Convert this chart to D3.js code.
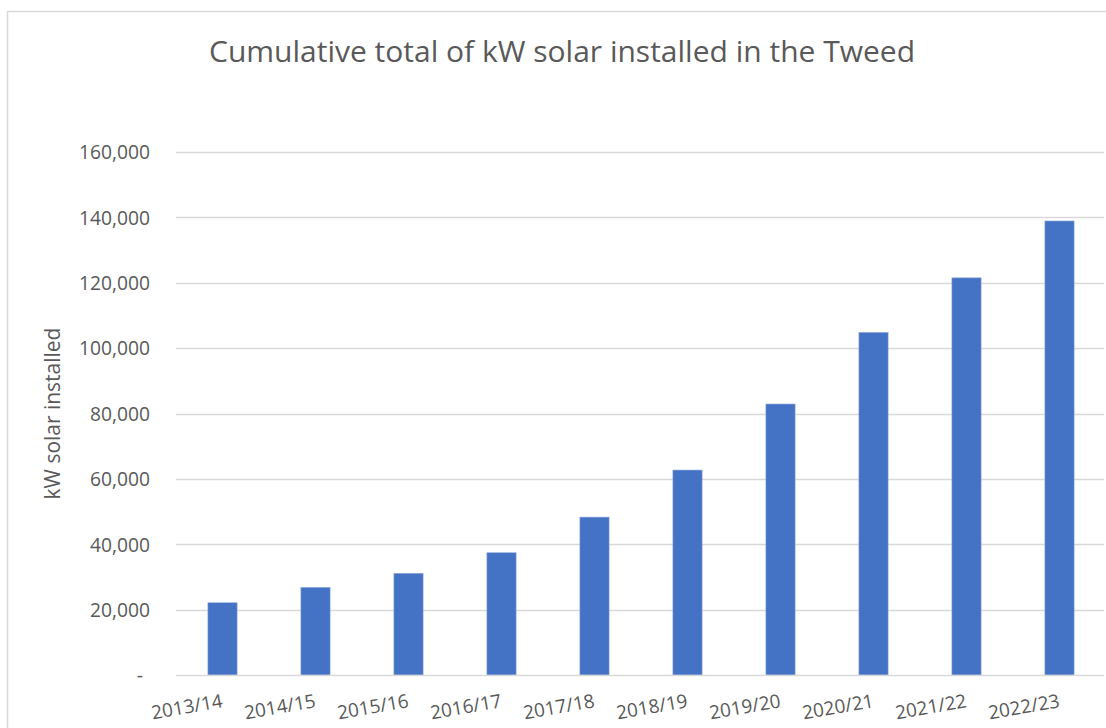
<!DOCTYPE html>
<html>
<head>
<meta charset="utf-8">
<script src="https://cdn.jsdelivr.net/npm/d3@7"></script>
<style>
  html, body { margin: 0; padding: 0; background: #fff; }
  svg { display: block; }
  text { font-family: "Open Sans", "Noto Sans", sans-serif; fill: #595959; }
</style>
</head>
<body>
<svg id="chart" width="1106" height="728"></svg>
<script>
const categories = ["2013/14","2014/15","2015/16","2016/17","2017/18","2018/19","2019/20","2020/21","2021/22","2022/23"];
const values = [22100, 26800, 31100, 37400, 48300, 62700, 82900, 104800, 121500, 138900];
const yTicks = [0, 20000, 40000, 60000, 80000, 100000, 120000, 140000, 160000];
const titleText = "Cumulative total of kW solar installed in the Tweed";
const yAxisTitle = "kW solar installed";

const svg = d3.select("#chart");
const W = 1106, H = 728;
const plot = { left: 176, right: 1106, top: 152, bottom: 675 };

function fitSize(sel, base, target) {
  sel.style("font-size", base + "px");
  const w = sel.node().getComputedTextLength();
  return base * target / w;
}

// chart area border
svg.append("rect")
  .attr("x", 7.5).attr("y", 11.5)
  .attr("width", W + 20).attr("height", H + 20)
  .attr("fill", "none").attr("stroke", "#d9d9d9").attr("stroke-width", 1.5);

const x = d3.scaleBand().domain(categories)
  .range([plot.left, plot.right])
  .paddingInner(0.686).paddingOuter(0.343);
const y = d3.scaleLinear().domain([0, 160000]).range([plot.bottom, plot.top]);

// gridlines
svg.append("g").selectAll("line").data(yTicks.filter(d => d > 0)).join("line")
  .attr("x1", plot.left).attr("x2", 1104)
  .attr("y1", d => Math.round(y(d)) + 0.5).attr("y2", d => Math.round(y(d)) + 0.5)
  .attr("stroke", "#d9d9d9").attr("stroke-width", 1.3);

// bars
svg.append("g").selectAll("rect").data(values).join("rect")
  .attr("x", (d, i) => x(categories[i]))
  .attr("width", x.bandwidth())
  .attr("y", d => y(d))
  .attr("height", d => y(0) - y(d))
  .attr("fill", "#4472c4")
  .attr("stroke", "#8eaadb").attr("stroke-width", 0.6);

// baseline axis
svg.append("line")
  .attr("x1", plot.left).attr("x2", 1104)
  .attr("y1", y(0) + 0.5).attr("y2", y(0) + 0.5)
  .attr("stroke", "#d9d9d9").attr("stroke-width", 1.6);

// y axis labels via d3 axis
const yAxis = d3.axisLeft(y).tickValues(yTicks)
  .tickFormat(d => d === 0 ? "-" : d3.format(",")(d))
  .tickSize(0).tickPadding(0);
const gy = svg.append("g").attr("transform", `translate(${plot.left - 26},0)`).call(yAxis);
gy.select(".domain").remove();
const yLabSize = fitSize(gy.selectAll(".tick").filter(d => d === 160000).select("text"), 16, 71);
gy.selectAll("text")
  .style("font-size", yLabSize + "px").style("fill", "#595959")
  .style("font-family", "\"Open Sans\", sans-serif")
  .attr("dy", "0.35em");
gy.selectAll(".tick").filter(d => d === 0).select("text").attr("dx", -7);

// x axis labels
const xAxis = d3.axisBottom(x).tickSize(0).tickPadding(0);
const gx = svg.append("g").attr("transform", `translate(0,${plot.bottom})`).call(xAxis);
gx.select(".domain").remove();
const xLabSize = fitSize(gx.select(".tick text"), 16, 72);
gx.selectAll("text")
  .style("font-size", xLabSize + "px").style("fill", "#595959")
  .style("font-family", "\"Open Sans\", sans-serif")
  .attr("text-anchor", "end")
  .attr("dy", 0)
  .attr("y", 0)
  .attr("transform", "translate(1,32) rotate(-10)");

// y axis title
const yt = svg.append("text")
  .attr("transform", `translate(60,${(plot.top + plot.bottom) / 2}) rotate(-90)`)
  .attr("text-anchor", "middle")
  .text(yAxisTitle);
yt.style("font-size", fitSize(yt, 16, 172) + "px");

// title
const t = svg.append("text")
  .attr("x", 562).attr("y", 62)
  .attr("text-anchor", "middle")
  .text(titleText);
t.style("font-size", fitSize(t, 27, 706) + "px");
</script>
</body>
</html>
